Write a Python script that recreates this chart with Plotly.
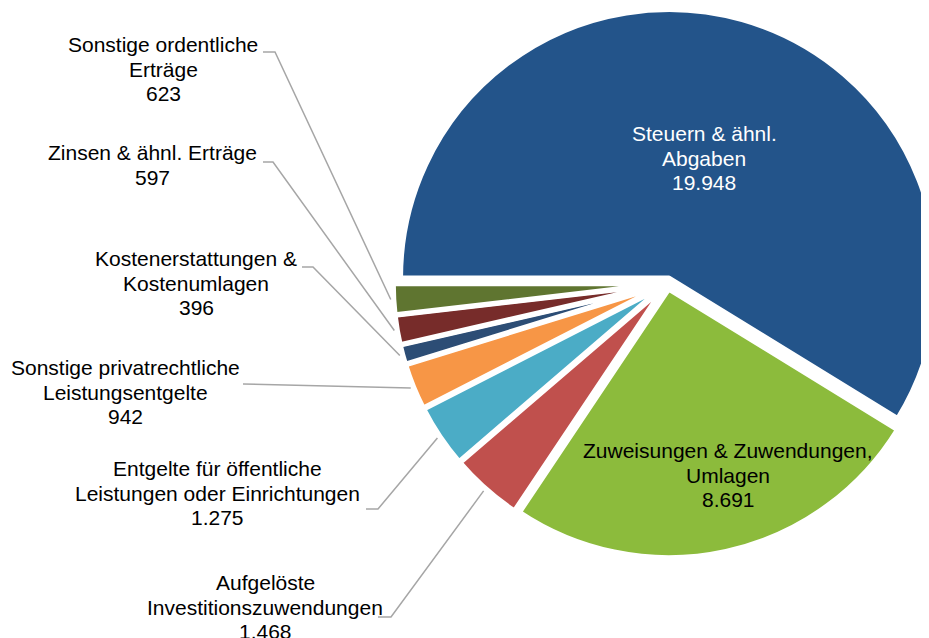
import math
import plotly.graph_objects as go

# ---------------- data ----------------
labels = [
    "Steuern & ähnl. Abgaben",
    "Zuweisungen & Zuwendungen, Umlagen",
    "Aufgelöste Investitionszuwendungen",
    "Entgelte für öffentliche Leistungen oder Einrichtungen",
    "Sonstige privatrechtliche Leistungsentgelte",
    "Kostenerstattungen & Kostenumlagen",
    "Zinsen & ähnl. Erträge",
    "Sonstige ordentliche Erträge",
]
label_lines = [
    ["Steuern & ähnl.", "Abgaben"],
    ["Zuweisungen & Zuwendungen,", "Umlagen"],
    ["Aufgelöste", "Investitionszuwendungen"],
    ["Entgelte für öffentliche", "Leistungen oder Einrichtungen"],
    ["Sonstige privatrechtliche", "Leistungsentgelte"],
    ["Kostenerstattungen &", "Kostenumlagen"],
    ["Zinsen & ähnl. Erträge"],
    ["Sonstige ordentliche", "Erträge"],
]
values = [19948, 8691, 1468, 1275, 942, 396, 597, 623]
colors = ["#23548A", "#8CBB3C", "#C0504D", "#4BACC6", "#F79646", "#2C4D75", "#772C2A", "#5F7530"]

# ---------------- layout constants ----------------
OFF = 8                # page offset of the plot div (body margin)
FW, FH = 940, 638      # figure size (right part of the pie runs past the window, as in the original)
CX, CY = 659.5, 275.5  # pie centre in figure px
R_IN = 268.5           # pie radius (px)
PULL = 0.0212
LINE_W = 5
FONT = "Liberation Sans, Arial, sans-serif"
FS = 21
LINE_STEP = 24.3

R_BOX = R_IN * (1 + PULL)
dom_x = [(CX - R_BOX) / FW, (CX + R_BOX) / FW]
dom_y = [1 - 2 * CY / FH, 1]

# label centres (window px) and text colours
label_pos = [(704, 158), (728, 475), (265, 607), (217, 493),
             (126, 392), (196, 283), (152, 165), (163, 69)]
label_color = ["white", "black", "black", "black", "black", "black", "black", "black"]
# leader lines for outside labels: index -> (x start, x elbow, y) in window px
leaders = {2: (378, 391, 617), 3: (366, 378, 509), 4: (243, 243, 384),
           5: (302, 313, 267), 6: (263, 273, 162), 7: (263, 275, 52)}


def fmt(v):
    return f"{v:,}".replace(",", ".")


def win2paper(x, y):
    return (x - OFF) / FW, 1 - (y - OFF) / FH


def fig2paper(x, y):
    return x / FW, 1 - y / FH


fig = go.Figure(go.Pie(
    labels=labels, values=values, sort=False, direction="clockwise",
    rotation=-90, pull=[PULL] * len(values),
    marker=dict(colors=colors, line=dict(color="white", width=LINE_W)),
    textinfo="none", hoverinfo="label+value", showlegend=False,
    domain=dict(x=dom_x, y=dom_y),
))

annotations = []
for i, (lines, v) in enumerate(zip(label_lines, values)):
    all_lines = lines + [fmt(v)]
    lx, ly = label_pos[i]
    n = len(all_lines)
    for k, t in enumerate(all_lines):
        yy = ly + (k - (n - 1) / 2) * LINE_STEP
        px, py = win2paper(lx, yy)
        annotations.append(dict(
            x=px, y=py, xref="paper", yref="paper", text=t, showarrow=False,
            xanchor="center", yanchor="middle",
            font=dict(family=FONT, size=FS, color=label_color[i]),
        ))

total = sum(values)
shapes = []
cum = 0.0
for i, v in enumerate(values):
    mid = -90 + (cum + v / 2) / total * 360
    cum += v
    if i not in leaders:
        continue
    a = math.radians(mid)
    dist = R_IN * (1 + PULL) + 3
    ex = CX + dist * math.sin(a)
    ey = CY - dist * math.cos(a)
    xs, xe, yl = leaders[i]
    p1 = win2paper(xs, yl)
    p2 = win2paper(xe, yl)
    p3 = fig2paper(ex, ey)
    shapes.append(dict(
        type="path", xref="paper", yref="paper",
        path=f"M {p1[0]},{p1[1]} L {p2[0]},{p2[1]} L {p3[0]},{p3[1]}",
        line=dict(color="#A6A6A6", width=1.5),
    ))

fig.update_layout(
    width=FW, height=FH, margin=dict(l=0, r=0, t=0, b=0),
    paper_bgcolor="white", plot_bgcolor="white",
    annotations=annotations, shapes=shapes,
    font=dict(family=FONT, size=FS),
)

fig.write_html("out.html")
